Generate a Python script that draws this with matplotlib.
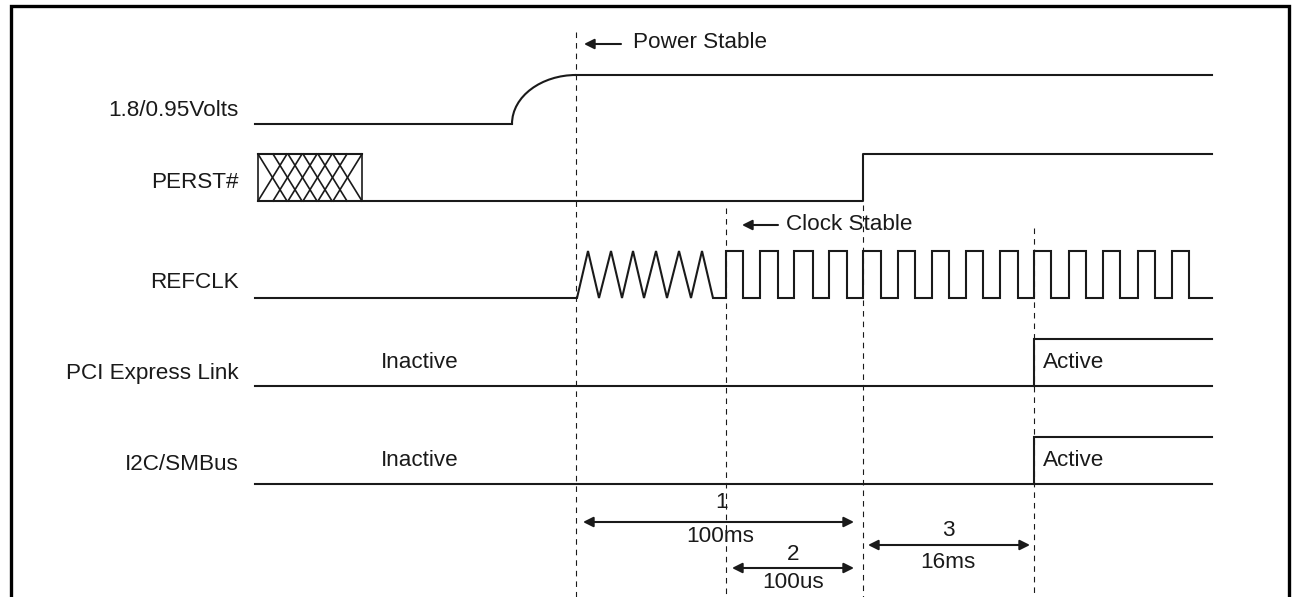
import matplotlib.pyplot as plt
from matplotlib.path import Path
from matplotlib.patches import PathPatch

plt.rcParams['font.family'] = ['Liberation Sans', 'DejaVu Sans']

INK = '#1a1a1a'

# signal names and the row (pixel y) of each name
signal_names = ["1.8/0.95Volts", "PERST#", "REFCLK", "PCI Express Link", "I2C/SMBus"]
signal_label_y = [111, 183, 283, 373, 464]

# time axis: start / end of the traces and the marked events
t_start, t_end = 255, 1212
power_stable = 576
clock_stable = 726
perst_rise = 863
link_active = 1034

# 1.8/0.95V rail
volt_low, volt_high = 124, 75
ramp_start = 512

# PERST#
perst_low, perst_high = 201, 154
perst_unknown = (258, 362)
hatch_top = [258, 273, 288, 303, 318, 333]
hatch_span = 29

# REFCLK
clk_low, clk_high = 298, 251
tri_peaks = [588, 611, 633, 656, 679, 702]
tri_valleys = [599, 622, 644, 667, 691]
tri_end = 713
clk_rises = [726, 760, 794, 829, 863, 898, 932, 966, 1000, 1034, 1069, 1103, 1138, 1172]
clk_falls = [743, 778, 813, 847, 881, 915, 949, 983, 1018, 1051, 1086, 1120, 1155, 1189]

# link / bus rows: (low, high, text y)
link_rows = [(386, 339, 362), (484, 437, 461)]

# timing brackets: (x0, x1, y, number, number x, number y, value, value x, value y)
brackets = [
    (583, 854, 522, "1", 722, 502, "100ms", 720, 537),
    (732, 854, 568, "2", 793, 554, "100us", 793, 582),
    (868, 1030, 545, "3", 948, 531, "16ms", 948, 563),
]

fig = plt.figure(figsize=(12.93, 5.97), dpi=100)
ax = fig.add_axes([0, 0, 1, 1])
ax.set_xlim(0, 1293)
ax.set_ylim(597, 0)
ax.axis('off')

lw = 1.5
fs = 16.2

# frame (open at bottom)
ax.plot([10.5, 10.5, 1289, 1289], [597, 6, 6, 597], color='black', lw=2.4,
        solid_joinstyle='miter')

# names
for name, y in zip(signal_names, signal_label_y):
    ax.text(239, y, name, ha='right', va='center', fontsize=fs, color=INK)

# dashed event markers
for x, y0 in [(power_stable, 32), (clock_stable, 208), (perst_rise, 205), (link_active, 228)]:
    ax.plot([x, x], [y0, 597], color=INK, lw=0.8, ls=(0, (5, 4.5)))

# power rail
ax.plot([t_start, ramp_start], [volt_low, volt_low], color=INK, lw=lw)
ramp = Path([(ramp_start, volt_low), (ramp_start, volt_low - 28),
             (ramp_start + 30, volt_high), (power_stable, volt_high)],
            [Path.MOVETO, Path.CURVE4, Path.CURVE4, Path.CURVE4])
ax.add_patch(PathPatch(ramp, fill=False, edgecolor=INK, lw=lw))
ax.plot([power_stable, t_end], [volt_high, volt_high], color=INK, lw=lw)

# PERST# (unknown state first)
x0, x1 = perst_unknown
ax.plot([x0, x1], [perst_high, perst_high], color=INK, lw=lw)
ax.plot([x0, x0], [perst_high, perst_low], color=INK, lw=1.2)
ax.plot([x1, x1], [perst_high, perst_low], color=INK, lw=1.2)
for hx in hatch_top:
    ax.plot([hx, hx + hatch_span], [perst_high, perst_low], color=INK, lw=1.2)
    ax.plot([hx + hatch_span, hx], [perst_high, perst_low], color=INK, lw=1.2)
ax.plot([x0, perst_rise, perst_rise, t_end],
        [perst_low, perst_low, perst_high, perst_high], color=INK, lw=lw)

# REFCLK
cx = [t_start, power_stable + 1]
cy = [clk_low, clk_low]
for i, p in enumerate(tri_peaks):
    cx.append(p)
    cy.append(clk_high)
    if i < len(tri_valleys):
        cx.append(tri_valleys[i])
        cy.append(clk_low)
cx += [tri_end, clock_stable]
cy += [clk_low, clk_low]
for r, f in zip(clk_rises, clk_falls):
    cx += [r, r, f, f]
    cy += [clk_low, clk_high, clk_high, clk_low]
cx.append(t_end)
cy.append(clk_low)
ax.plot(cx, cy, color=INK, lw=lw, solid_joinstyle='miter')

# link / bus
for low, high, ty in link_rows:
    ax.plot([t_start, t_end], [low, low], color=INK, lw=lw)
    ax.plot([link_active, link_active, t_end], [low, high, high], color=INK, lw=lw,
            solid_joinstyle='miter')
    ax.text(381, ty, "Inactive", ha='left', va='center', fontsize=fs, color=INK)
    ax.text(1043, ty, "Active", ha='left', va='center', fontsize=fs, color=INK)

# stable markers
arrow_kw = dict(arrowstyle='-|>', color=INK, lw=1.5, mutation_scale=15,
                shrinkA=0, shrinkB=0)
ax.annotate('', xy=(584, 44), xytext=(621, 44), arrowprops=arrow_kw)
ax.text(633, 43, "Power Stable", ha='left', va='center', fontsize=fs, color=INK)
ax.annotate('', xy=(742, 225), xytext=(778, 225), arrowprops=arrow_kw)
ax.text(786, 225, "Clock Stable", ha='left', va='center', fontsize=fs, color=INK)

# timing brackets
both_kw = dict(arrowstyle='<|-|>', color=INK, lw=1.5, mutation_scale=15,
               shrinkA=0, shrinkB=0)
for bx0, bx1, by, num, nx, ny, val, vx, vy in brackets:
    ax.annotate('', xy=(bx0, by), xytext=(bx1, by), arrowprops=both_kw)
    ax.text(nx, ny, num, ha='center', va='center', fontsize=fs, color=INK)
    ax.text(vx, vy, val, ha='center', va='center', fontsize=fs, color=INK)

fig.savefig('out.png', dpi=100, facecolor='white')
